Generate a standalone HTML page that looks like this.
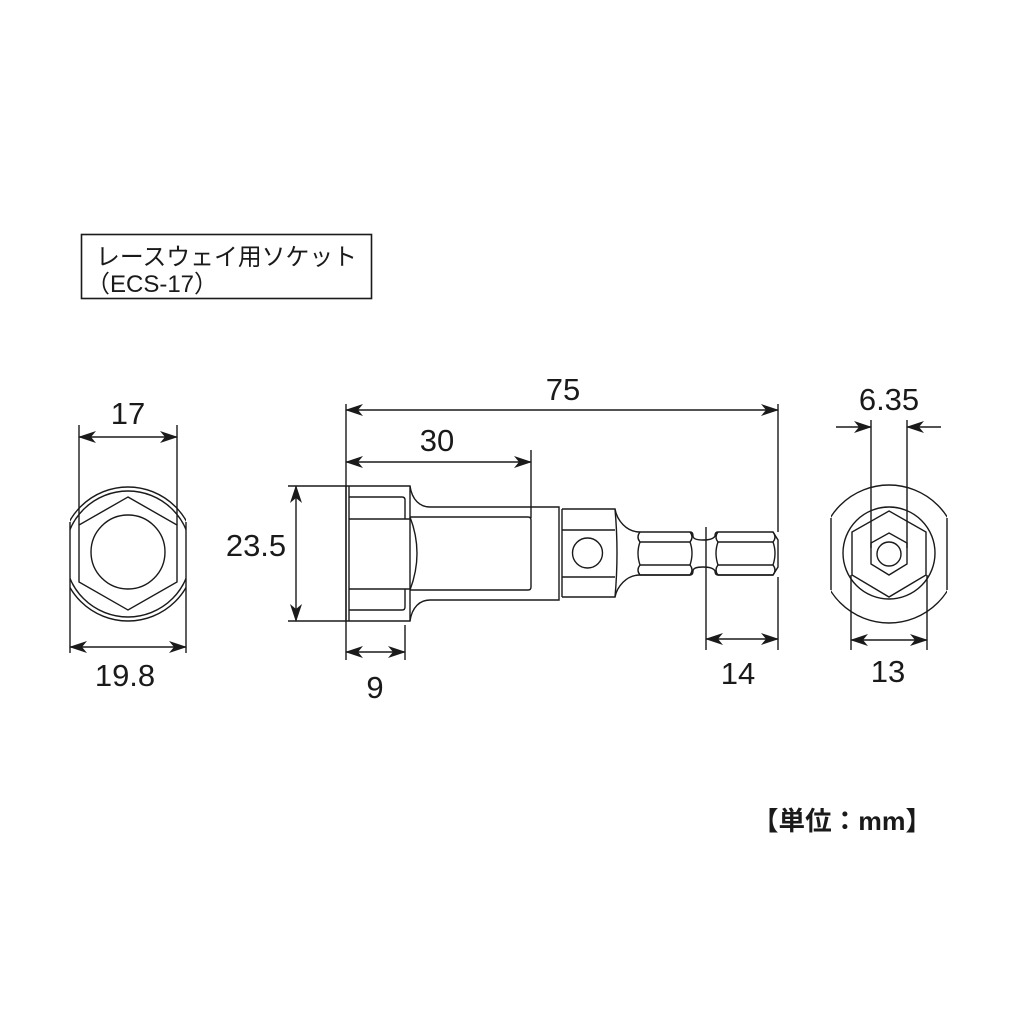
<!DOCTYPE html>
<html><head><meta charset="utf-8"><style>
html,body{margin:0;padding:0;background:#fff;}
svg{display:block;}
text{font-family:"Liberation Sans Narrow","Liberation Sans","Noto Sans CJK JP",sans-serif;fill:#1a1a1a;}
.j{font-family:"Liberation Sans","Noto Sans CJK JP",sans-serif;}
</style></head><body>
<svg width="1010" height="1010" viewBox="0 0 1010 1010" xmlns="http://www.w3.org/2000/svg">
<defs>
<marker id="a" markerWidth="18" markerHeight="12" refX="17" refY="6" orient="auto-start-reverse" markerUnits="userSpaceOnUse">
<path d="M0,0 L18,6 L0,12 L5,6 Z" fill="#1a1a1a"/></marker>
<clipPath id="cl"><rect x="70" y="470" width="116" height="170"/></clipPath>
<clipPath id="cr"><rect x="831" y="470" width="116" height="170"/></clipPath>
</defs>
<g fill="none" stroke="#1a1a1a" stroke-width="1.4">
<rect x="81.5" y="234.5" width="290" height="64" stroke-width="1.6"/>
<!-- LEFT VIEW -->
<g clip-path="url(#cl)">
<circle cx="128" cy="554" r="67"/>
<circle cx="128" cy="554" r="63"/>
</g>
<line x1="70" y1="522" x2="70" y2="586"/>
<line x1="186" y1="522" x2="186" y2="586"/>
<polygon points="128,497 177,525 177,582 128,610 79,582 79,525"/>
<circle cx="128" cy="552" r="37"/>
<line x1="79" y1="425" x2="79" y2="525"/>
<line x1="177" y1="425" x2="177" y2="525"/>
<line x1="79" y1="437" x2="177" y2="437" marker-start="url(#a)" marker-end="url(#a)"/>
<line x1="70" y1="586" x2="70" y2="653"/>
<line x1="186" y1="586" x2="186" y2="653"/>
<line x1="70" y1="647" x2="186" y2="647" marker-start="url(#a)" marker-end="url(#a)"/>
<!-- MIDDLE VIEW -->
<path d="M346,486 H410 C412,500 420,507 430,507 H559 V600 H430 C420,600 412,607 410,621 H346 Z"/>
<line x1="349" y1="486" x2="349" y2="621"/>
<path d="M349,497 H402 Q405,497 405,500 V519"/>
<line x1="349" y1="519" x2="410" y2="519"/>
<path d="M349,610 H402 Q405,610 405,607 V589"/>
<line x1="349" y1="589" x2="410" y2="589"/>
<line x1="410" y1="486" x2="410" y2="621"/>
<path d="M410,517 H528 Q531,517 531,520 V587 Q531,590 528,590 H410"/>
<path d="M410,517 Q424,553 410,590"/>
<line x1="562" y1="509" x2="562" y2="597"/>
<path d="M562,509 H615 C617,520 626,532 640,532 H690 Q693,532 693,536 Q693,540 703,540 Q713,540 715,536 Q715,532 718,532 H773 L778,540 V567 L773,575 H718 Q715,575 715,571 Q713,567 703,567 Q693,567 693,571 Q693,575 690,575 H640 C626,575 617,587 615,597 H562"/>
<line x1="562" y1="530" x2="615" y2="530"/>
<line x1="562" y1="577" x2="615" y2="577"/>
<path d="M615,509 Q619,553 615,597"/>
<circle cx="587.5" cy="553" r="15"/>
<path d="M640,532 Q636,537 640,542 H690 Q694,537 690,532"/>
<path d="M640,542 Q636,553 640,565 H690 Q694,553 690,542"/>
<path d="M640,565 Q636,570 640,575 H690 Q694,570 690,565"/>
<path d="M718,532 Q714,537 718,542 H773 Q777,537 773,532"/>
<path d="M718,542 Q714,553 718,565 H773 Q777,553 773,542"/>
<path d="M718,565 Q714,570 718,575 H773 Q777,570 773,565"/>
<line x1="346" y1="404" x2="346" y2="660"/>
<line x1="778" y1="404" x2="778" y2="532"/>
<line x1="778" y1="577" x2="778" y2="650"/>
<line x1="346" y1="410" x2="778" y2="410" marker-start="url(#a)" marker-end="url(#a)"/>
<line x1="531" y1="450" x2="531" y2="518"/>
<line x1="346" y1="462" x2="531" y2="462" marker-start="url(#a)" marker-end="url(#a)"/>
<line x1="288" y1="486" x2="346" y2="486"/>
<line x1="288" y1="621" x2="346" y2="621"/>
<line x1="296" y1="486" x2="296" y2="621" marker-start="url(#a)" marker-end="url(#a)"/>
<line x1="405" y1="625" x2="405" y2="660"/>
<line x1="346" y1="652" x2="405" y2="652" marker-start="url(#a)" marker-end="url(#a)"/>
<line x1="706" y1="527" x2="706" y2="650"/>
<line x1="706" y1="639" x2="778" y2="639" marker-start="url(#a)" marker-end="url(#a)"/>
<!-- RIGHT VIEW -->
<g clip-path="url(#cr)">
<circle cx="889" cy="554" r="69"/>
</g>
<line x1="831" y1="518" x2="831" y2="590"/>
<line x1="947" y1="518" x2="947" y2="590"/>
<circle cx="889" cy="553" r="46"/>
<polygon points="889,511 926,532 926,575 889,597 852,575 852,532"/>
<polygon points="889,533 907,543 907,564 889,575 871,564 871,543"/>
<circle cx="889" cy="554" r="12"/>
<line x1="871" y1="420" x2="871" y2="548"/>
<line x1="907" y1="420" x2="907" y2="548"/>
<line x1="836" y1="427" x2="871" y2="427" marker-end="url(#a)"/>
<line x1="941" y1="427" x2="907" y2="427" marker-end="url(#a)"/>
<line x1="851" y1="575" x2="851" y2="650"/>
<line x1="927" y1="575" x2="927" y2="650"/>
<line x1="851" y1="640" x2="927" y2="640" marker-start="url(#a)" marker-end="url(#a)"/>
</g>
<g font-size="31" text-anchor="middle">
<text x="128" y="424">17</text>
<text x="125" y="686">19.8</text>
<text x="563" y="400">75</text>
<text x="437" y="451">30</text>
<text x="256" y="556">23.5</text>
<text x="375" y="698">9</text>
<text x="738" y="684">14</text>
<text x="889" y="410">6.35</text>
<text x="888" y="682">13</text>
</g>
<text class="j" x="96" y="265" font-size="24" textLength="261" lengthAdjust="spacingAndGlyphs">レースウェイ用ソケット</text>
<text class="j" x="86" y="292" font-size="24">（ECS-17）</text>
<text class="j" x="752" y="830" font-size="26" font-weight="bold" textLength="180" lengthAdjust="spacingAndGlyphs">【単位：mm】</text>
</svg>
</body></html>
